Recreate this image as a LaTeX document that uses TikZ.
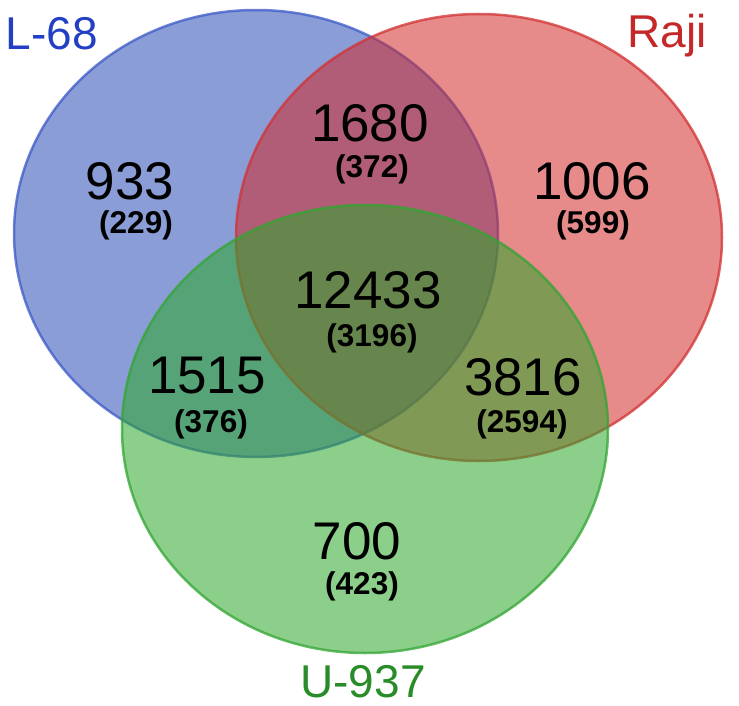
\documentclass[tikz,border=0pt]{standalone}
\usepackage{fontspec}
\setmainfont{Liberation Sans}
\usetikzlibrary{positioning}

\definecolor{fillblue}{RGB}{44,77,180}
\definecolor{fillred}{RGB}{209,42,42}
\definecolor{fillgreen}{RGB}{44,168,44}
\definecolor{lineblue}{RGB}{60,90,200}
\definecolor{linered}{RGB}{210,50,50}
\definecolor{linegreen}{RGB}{50,165,50}
\definecolor{textblue}{RGB}{35,64,196}
\definecolor{textred}{RGB}{196,40,40}
\definecolor{textgreen}{RGB}{40,140,40}

\begin{document}
\begin{tikzpicture}[
    x=1pt, y=-1pt,
    set/.style={fill opacity=0.55, draw opacity=0.75, line width=2.5pt},
    count/.style={anchor=base, inner sep=0pt, font=\fontsize{53}{53}\selectfont},
    sub/.style={anchor=base, inner sep=0pt, font=\fontsize{31.5}{31.5}\selectfont\bfseries},
    setname/.style={anchor=base, inner sep=0pt, font=\fontsize{46}{46}\selectfont}
  ]
    \useasboundingbox (0,0) rectangle (739,706);
    % the three sets
    \draw[set, fill=fillblue, draw=lineblue] (256,233.5) ellipse [x radius=242pt, y radius=223.5pt];
    \draw[set, fill=fillred, draw=linered] (479,237.5) ellipse [x radius=243pt, y radius=223.5pt];
    \draw[set, fill=fillgreen, draw=linegreen] (365,429) ellipse [x radius=243pt, y radius=224pt];
    % set names
    \node[setname, text=textblue] (l68) at (52,50) {L-68};
    \node[setname, text=textred] (raji) at (667,48) {Raji};
    \node[setname, text=textgreen] (u937) at (363,697) {U-937};
    % counts
    \node[count] (c933) at (130,200) {933};
    \node[sub] (s933) at (136,233) {(229)};
    \node[count] (c1680) at (370,142) {1680};
    \node[sub] (s1680) at (372,178) {(372)};
    \node[count] (c1006) at (592,200) {1006};
    \node[sub] (s1006) at (593,233) {(599)};
    \node[count] (c12433) at (368,308) {12433};
    \node[sub] (s12433) at (372,346) {(3196)};
    \node[count] (c1515) at (207,393) {1515};
    \node[sub] (s1515) at (211,432) {(376)};
    \node[count] (c3816) at (523,395) {3816};
    \node[sub] (s3816) at (522,432) {(2594)};
    \node[count] (c700) at (357,559) {700};
    \node[sub] (s700) at (362,594) {(423)};
  \end{tikzpicture}
\end{document}
